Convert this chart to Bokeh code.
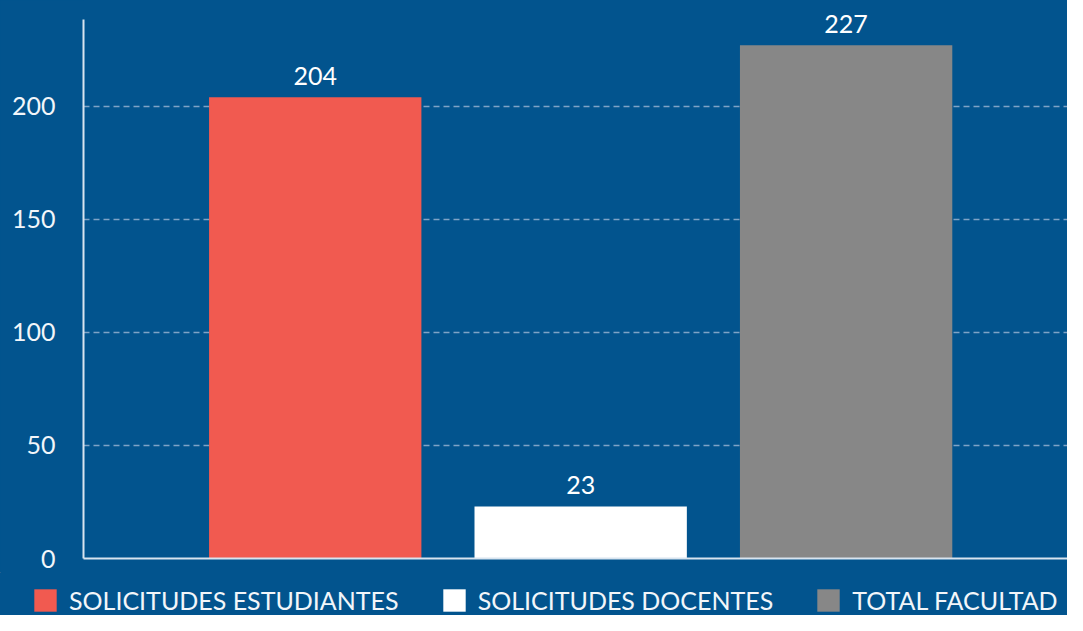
from bokeh.plotting import figure
from bokeh.layouts import column
from bokeh.models import ColumnDataSource, Range1d, Legend, LegendItem
from bokeh.core.properties import value
from bokeh.embed import file_html
from bokeh.resources import INLINE

categories = ["SOLICITUDES ESTUDIANTES", "SOLICITUDES DOCENTES", "TOTAL FACULTAD"]
values = [204, 23, 227]
colors = ["#f15a50", "#ffffff", "#878787"]
y_ticks = [0, 50, 100, 150, 200]
y_axis_top = 238.4

BG = "#02548e"
FONT = "Lato"
TXT = "#f2f6fa"

src = ColumnDataSource(dict(
    x=list(range(len(categories))),
    top=values,
    cat=categories,
    color=colors,
    label=[str(v) for v in values],
))

p = figure(width=1067, height=572, output_backend="svg", toolbar_location=None,
           x_range=Range1d(-0.873, 2.834), y_range=Range1d(0, 246.8),
           min_border_left=83, min_border_top=0, min_border_right=0,
           min_border_bottom=14,
           background_fill_color=BG, border_fill_color=BG, outline_line_color=None)
p.frame_align = False

p.vbar(x="x", top="top", width=0.8, color="color", line_color=None, source=src)

p.text(x="x", y="top", text="label", source=src, text_align="center",
       text_baseline="bottom", y_offset=-12, text_color="#ffffff",
       text_font=value(FONT), text_font_size="25px")

p.xgrid.visible = False
p.ygrid.grid_line_color = "#7fa3c6"
p.ygrid.grid_line_dash = "6 4"
p.ygrid.grid_line_width = 1.5

p.yaxis.ticker = y_ticks
p.yaxis.bounds = (0, y_axis_top)
p.yaxis.axis_line_color = "#d8e4ef"
p.yaxis.axis_line_width = 2
p.yaxis.major_tick_line_color = None
p.yaxis.minor_tick_line_color = None
p.yaxis.major_tick_out = 0
p.yaxis.major_label_standoff = 28
p.yaxis.major_label_text_font = FONT
p.yaxis.major_label_text_font_size = "25px"
p.yaxis.major_label_text_color = TXT

p.xaxis.ticker = []
p.xaxis.axis_line_color = "#d8e4ef"
p.xaxis.axis_line_width = 2
p.xaxis.major_tick_line_color = None
p.xaxis.minor_tick_line_color = None
p.xaxis.major_tick_out = 0
p.xaxis.major_label_standoff = 0
p.xaxis.major_label_text_font_size = "0px"

# legend strip below the chart
p2 = figure(width=1067, height=43, output_backend="svg", toolbar_location=None,
            x_range=Range1d(100, 101), y_range=Range1d(-200, -100),
            x_axis_type=None, y_axis_type=None,
            min_border=0, background_fill_color=BG, border_fill_color=BG,
            outline_line_color=None)
p2.frame_align = False
p2.grid.visible = False
r2 = p2.vbar(x="x", top="top", bottom="top", width=0.8, color="color",
             line_color=None, source=src)

items = [LegendItem(label=c, renderers=[r2], index=i) for i, c in enumerate(categories)]
legend = Legend(items=items, orientation="horizontal", location=(31, 0),
                glyph_width=28, glyph_height=28, label_standoff=10, spacing=41,
                label_text_font=FONT, label_text_font_size="25px",
                label_text_color=TXT, background_fill_alpha=0,
                border_line_color=None, padding=0, margin=0)
p2.add_layout(legend, "center")

layout = column(p, p2, spacing=0, background=BG)
open("out.html", "w").write(file_html(layout, INLINE))
